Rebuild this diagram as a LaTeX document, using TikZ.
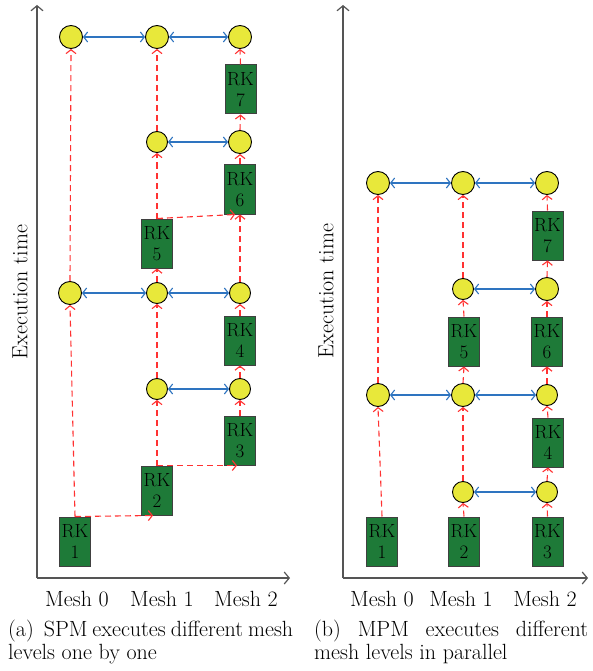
\documentclass[tikz,border=0pt]{standalone}
\usepackage{fontspec}
\usetikzlibrary{arrows.meta}
\definecolor{dotyellow}{RGB}{232,232,58}
\definecolor{boxgreen}{RGB}{30,122,56}
\definecolor{boxedge}{RGB}{64,64,64}
\definecolor{redline}{RGB}{255,50,50}
\definecolor{blueline}{RGB}{46,116,192}
\definecolor{axisgray}{RGB}{85,85,85}
\begin{document}
\begin{tikzpicture}[x=1pt,y=-1pt,
  dotbig/.style={circle,draw=black,line width=0.9pt,fill=dotyellow,minimum size=23pt,inner sep=0pt},
  dotsmall/.style={circle,draw=black,line width=0.9pt,fill=dotyellow,minimum size=21pt,inner sep=0pt},
  rkbox/.style={rectangle,draw=boxedge,line width=1pt,fill=boxgreen,minimum width=31pt,minimum height=49pt,inner sep=0pt,align=center,font=\fontsize{19}{21}\selectfont},
  redarr/.style={draw=redline,line width=1.1pt,dash pattern=on 6pt off 4pt,-{Straight Barb[length=4pt,width=10pt]}},
  bluearr/.style={draw=blueline,line width=1.1pt,{Straight Barb[length=4pt,width=10pt]}-{Straight Barb[length=4pt,width=10pt]}},
  axisline/.style={draw=axisgray,line width=1.2pt,-{Straight Barb[length=5pt,width=12pt]}},
  lbl/.style={font=\fontsize{22}{25}\selectfont,inner sep=0pt},
]
\useasboundingbox (0,0) rectangle (592,671);
\fill[white] (0,0) rectangle (592,671);

% ---------------- axes ----------------
\coordinate (LO) at (37,578);
\coordinate (LT) at (37,5);
\coordinate (LR) at (290,578);
\coordinate (RO) at (343,578);
\coordinate (RT) at (343,5);
\coordinate (RR) at (588,578);
\draw[axisline] (LO) -- (LT);
\draw[axisline] (LO) -- (LR);
\draw[axisline] (RO) -- (RT);
\draw[axisline] (RO) -- (RR);

\node[lbl,rotate=90] (LyL) at (20,292) {Execution time};
\node[lbl,rotate=90] (RyL) at (326,291) {Execution time};

\node[lbl,anchor=base] (Lm0) at (77,606) {Mesh 0};
\node[lbl,anchor=base] (Lm1) at (162,606) {Mesh 1};
\node[lbl,anchor=base] (Lm2) at (246,606) {Mesh 2};
\node[lbl,anchor=base] (Rm0) at (382,606) {Mesh 0};
\node[lbl,anchor=base] (Rm1) at (461,606) {Mesh 1};
\node[lbl,anchor=base] (Rm2) at (545,606) {Mesh 2};

\node[lbl,anchor=base west] (capa1) at (8,636) {\makebox[285pt][s]{(a)\ \ SPM executes different mesh}};
\node[lbl,anchor=base west] (capa2) at (8,659) {levels one by one};
\node[lbl,anchor=base west] (capb1) at (314,636) {\makebox[274pt][s]{(b) MPM executes different}};
\node[lbl,anchor=base west] (capb2) at (314,659) {mesh levels in parallel};

% ---------------- left panel (SPM) ----------------
\node[dotbig]   (L0a) at (71,37) {};
\node[dotbig]   (L1a) at (157,37) {};
\node[dotbig]   (L2a) at (240,37) {};
\node[dotsmall] (L1b) at (157,142) {};
\node[dotbig]   (L2b) at (240,142) {};
\node[dotbig]   (L0c) at (70,293) {};
\node[dotsmall] (L1c) at (157,293) {};
\node[dotsmall] (L2c) at (240,293) {};
\node[dotsmall] (L1d) at (157,389) {};
\node[dotsmall] (L2d) at (240,389) {};

\node[rkbox] (Lrk7) at (240.5,89.5) {RK\\7};
\node[rkbox] (Lrk6) at (240,189.5) {RK\\6};
\node[rkbox] (Lrk5) at (157,243.5) {RK\\5};
\node[rkbox] (Lrk4) at (240,340.5) {RK\\4};
\node[rkbox] (Lrk3) at (240,440.5) {RK\\3};
\node[rkbox] (Lrk2) at (157,490.5) {RK\\2};
\node[rkbox] (Lrk1) at (75,541.5) {RK\\1};

\draw[redarr] (Lrk1.north) -- (L0c.south);
\draw[redarr] (Lrk1.north) -- ([xshift=-4pt]Lrk2.south);
\draw[redarr] (Lrk2.north) -- (L1d.south);
\draw[redarr] (Lrk2.north) -- ([xshift=-3pt]Lrk3.south);
\draw[redarr] (Lrk3.north) -- (L2d.south);
\draw[redarr] (L2d.north) -- (Lrk4.south);
\draw[redarr] (Lrk4.north) -- (L2c.south);
\draw[redarr] (L1d.north) -- (L1c.south);
\draw[redarr] (L0c.north) -- (L0a.south);
\draw[redarr] (L1c.north) -- (Lrk5.south);
\draw[redarr] (Lrk5.north) -- (L1b.south);
\draw[redarr] (Lrk5.north) -- ([xshift=-5pt]Lrk6.south);
\draw[redarr] (L2c.north) -- (Lrk6.south);
\draw[redarr] (Lrk6.north) -- (L2b.south);
\draw[redarr] (L2b.north) -- (Lrk7.south);
\draw[redarr] (Lrk7.north) -- (L2a.south);
\draw[redarr] (L1b.north) -- (L1a.south);

\draw[bluearr] (L0a) -- (L1a);
\draw[bluearr] (L1a) -- (L2a);
\draw[bluearr] (L1b) -- (L2b);
\draw[bluearr] (L0c) -- (L1c);
\draw[bluearr] (L1c) -- (L2c);
\draw[bluearr] (L1d) -- (L2d);

% ---------------- right panel (MPM) ----------------
\node[dotbig]   (R0a) at (378,183) {};
\node[dotbig]   (R1a) at (463,183) {};
\node[dotbig]   (R2a) at (547,183) {};
\node[dotsmall] (R1b) at (463,289) {};
\node[dotbig]   (R2b) at (547,289) {};
\node[dotbig]   (R0c) at (378,395) {};
\node[dotbig]   (R1c) at (463,395) {};
\node[dotsmall] (R2c) at (547,395) {};
\node[dotsmall] (R1d) at (463,492) {};
\node[dotsmall] (R2d) at (547,492) {};

\node[rkbox] (Rrk7) at (547.5,235.5) {RK\\7};
\node[rkbox] (Rrk6) at (547,341.5) {RK\\6};
\node[rkbox] (Rrk5) at (464,341.5) {RK\\5};
\node[rkbox] (Rrk4) at (548,442.5) {RK\\4};
\node[rkbox] (Rrk3) at (547.5,541.5) {RK\\3};
\node[rkbox] (Rrk2) at (464,541.5) {RK\\2};
\node[rkbox] (Rrk1) at (382,541.5) {RK\\1};

\draw[redarr] (Rrk1.north) -- (R0c.south);
\draw[redarr] (R0c.north) -- (R0a.south);
\draw[redarr] (Rrk2.north) -- (R1d.south);
\draw[redarr] (R1d.north) -- (R1c.south);
\draw[redarr] (R1c.north) -- (Rrk5.south);
\draw[redarr] (Rrk5.north) -- (R1b.south);
\draw[redarr] (R1b.north) -- (R1a.south);
\draw[redarr] (Rrk3.north) -- (R2d.south);
\draw[redarr] (R2d.north) -- (Rrk4.south);
\draw[redarr] (Rrk4.north) -- (R2c.south);
\draw[redarr] (R2c.north) -- (Rrk6.south);
\draw[redarr] (Rrk6.north) -- (R2b.south);
\draw[redarr] (R2b.north) -- (Rrk7.south);
\draw[redarr] (Rrk7.north) -- (R2a.south);

\draw[bluearr] (R0a) -- (R1a);
\draw[bluearr] (R1a) -- (R2a);
\draw[bluearr] (R1b) -- (R2b);
\draw[bluearr] (R0c) -- (R1c);
\draw[bluearr] (R1c) -- (R2c);
\draw[bluearr] (R1d) -- (R2d);
\end{tikzpicture}
\end{document}
